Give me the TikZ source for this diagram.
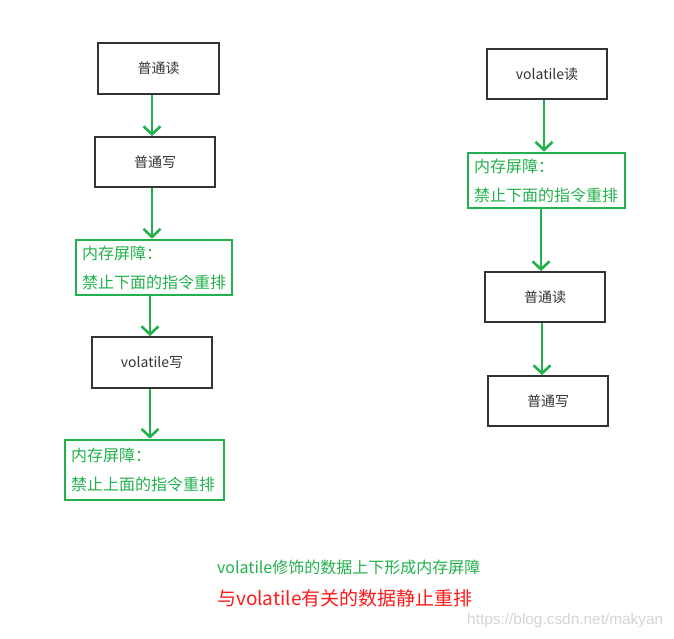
\documentclass[tikz,border=0pt]{standalone}
\usepackage{fontspec}
\setmainfont{Noto Sans CJK SC}
\newfontfamily\markfont{Liberation Sans}
\usepackage{xcolor}
\usetikzlibrary{arrows.meta, positioning}
\definecolor{barriergreen}{HTML}{22B14C}
\definecolor{boxgray}{HTML}{333333}
\definecolor{noticered}{HTML}{FF1A1A}
\definecolor{markgray}{HTML}{D4D4D4}

\begin{document}
\begin{tikzpicture}[
        x=1pt, y=-1pt,
        opbox/.style = {draw=boxgray, rectangle, line width=1.8pt, minimum width=120pt, minimum height=50pt, align=center, text=boxgray, font=\fontsize{14}{16}\selectfont, inner sep=0pt},
        barrier/.style = {draw=barriergreen, rectangle, line width=2.6pt, minimum height=55pt, text=barriergreen, align=left, font=\fontsize{16}{29}\selectfont, inner xsep=6pt, inner ysep=0pt},
        arrow/.style = {draw=barriergreen, line width=2.6pt, -{Straight Barb[length=8pt, width=17pt, line width=2.6pt]}}
    ]
        \useasboundingbox (0,0) rectangle (674,638);

        % left column
        \node (rdNormal) [opbox, minimum width=121pt, minimum height=51pt] at (158.5,68.5) {普通读};
        \node (wrNormal) [opbox] at (155,162) {普通写};
        \node (barrierA) [barrier, text width=144pt] at (154,267.5) {内存屏障：\\禁止下面的指令重排};
        \node (volWrite) [opbox, minimum height=51pt] at (152,362.5) {volatile写};
        \node (barrierB) [barrier, text width=147pt, minimum height=60pt] at (144.5,470) {内存屏障：\\禁止上面的指令重排};

        % right column
        \node (volRead) [opbox] at (547,74) {volatile读};
        \node (barrierC) [barrier, text width=145pt] at (546.5,180.5) {内存屏障：\\禁止下面的指令重排};
        \node (rdNormalR) [opbox] at (545,297) {普通读};
        \node (wrNormalR) [opbox] at (548,401) {普通写};

        \draw [arrow] ([xshift=-6.5pt]rdNormal.south) -- ([xshift=-6.5pt]rdNormal.south |- wrNormal.north);
        \draw [arrow] ([xshift=-3pt]wrNormal.south) -- ([xshift=-3pt]wrNormal.south |- barrierA.north);
        \draw [arrow] ([xshift=-4pt]barrierA.south) -- ([xshift=-4pt]barrierA.south |- volWrite.north);
        \draw [arrow] ([xshift=-2pt]volWrite.south) -- ([xshift=-2pt]volWrite.south |- barrierB.north);
        \draw [arrow] ([xshift=-3pt]volRead.south) -- ([xshift=-3pt]volRead.south |- barrierC.north);
        \draw [arrow] ([xshift=-5.5pt]barrierC.south) -- ([xshift=-5.5pt]barrierC.south |- rdNormalR.north);
        \draw [arrow] ([xshift=-3pt]rdNormalR.south) -- ([xshift=-3pt]rdNormalR.south |- wrNormalR.north);

        % notes
        \node (noteA) [anchor=west, inner sep=0pt, text=barriergreen, font=\fontsize{16}{18}\selectfont] at (217,567) {volatile修饰的数据上下形成内存屏障};
        \node (noteB) [anchor=west, inner sep=0pt, text=noticered, font=\fontsize{19}{22}\selectfont] at (217,598) {与volatile有关的数据静止重排};
        \node (mark) [anchor=west, inner sep=0pt, text=markgray, font=\markfont\fontsize{15.4}{17}\selectfont] at (467,621) {https://blog.csdn.net/makyan};

    \end{tikzpicture}
\end{document}
